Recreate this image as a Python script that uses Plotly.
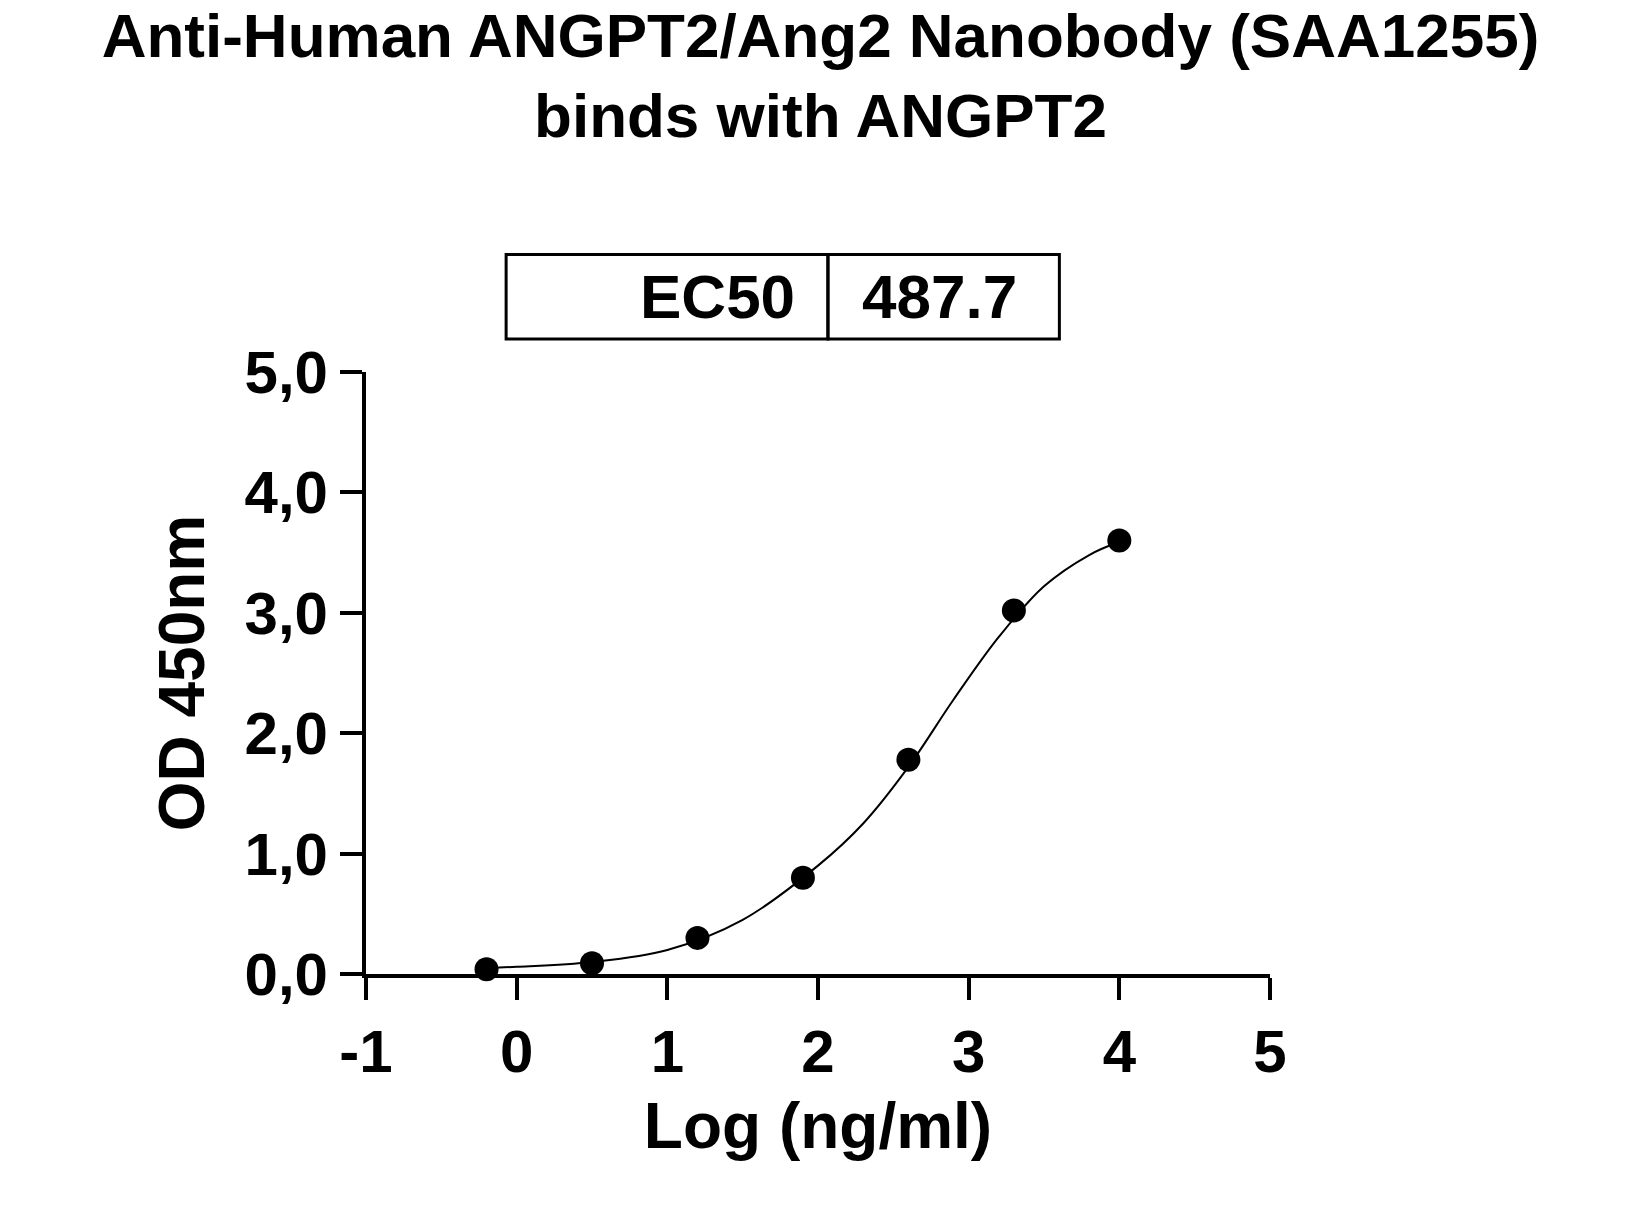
import plotly.graph_objects as go

log_conc = [-0.2, 0.5, 1.2, 1.9, 2.6, 3.3, 4.0]
od450 = [0.04, 0.09, 0.30, 0.80, 1.78, 3.02, 3.60]
fit_x = [-0.2, 0.0, 0.5, 1.0, 1.5, 2.0, 2.3, 2.6, 2.9, 3.2, 3.5, 3.8, 4.0]
fit_y = [0.05, 0.06, 0.10, 0.20, 0.45, 0.90, 1.25, 1.72, 2.28, 2.80, 3.22, 3.48, 3.59]
y_ticks = [0, 1, 2, 3, 4, 5]
y_labels = ["0,0", "1,0", "2,0", "3,0", "4,0", "5,0"]
x_ticks = [-1, 0, 1, 2, 3, 4, 5]
ec50_label, ec50_value = "EC50", "487.7"

F = "Liberation Sans"
fig = go.Figure()
fig.add_trace(go.Scatter(x=fit_x, y=fit_y, mode="lines", line=dict(color="black", width=2, shape="spline"),
                         cliponaxis=False, showlegend=False))
fig.add_trace(go.Scatter(x=log_conc, y=od450, mode="markers", marker=dict(color="black", size=24),
                         cliponaxis=False, showlegend=False))

fig.update_layout(
    width=1625, height=1220, plot_bgcolor="white", paper_bgcolor="white",
    margin=dict(l=358, r=363, t=364, b=254),
    title=dict(text="<b>Anti-Human ANGPT2/Ang2 Nanobody (SAA1255)<br>binds with ANGPT2</b>",
               x=0.5, xanchor="center", y=0.96, yanchor="top",
               font=dict(family=F, size=62, color="black")),
    xaxis=dict(range=[-1, 5], tickvals=x_ticks, ticktext=["<b>%d</b>" % v for v in x_ticks],
               showgrid=False, zeroline=False, showline=True, linecolor="black", linewidth=4,
               ticks="outside", ticklen=22, tickwidth=4, tickcolor="black",
               tickfont=dict(family=F, size=60, color="black"),
               title=dict(text="<b>Log (ng/ml)</b>", font=dict(family=F, size=64, color="black"), standoff=20)),
    yaxis=dict(range=[0, 5], tickvals=y_ticks, ticktext=["<b>%s</b>" % s for s in y_labels],
               showgrid=False, zeroline=False, showline=True, linecolor="black", linewidth=4,
               ticks="outside", ticklen=22, tickwidth=4, tickcolor="black",
               tickfont=dict(family=F, size=60, color="black"),
               title=dict(text="<b>OD 450nm</b>", font=dict(family=F, size=64, color="black"), standoff=20)),
)

for x0, x1 in [(0.155, 0.511), (0.511, 0.767)]:
    fig.add_shape(type="rect", xref="paper", yref="paper", x0=x0, x1=x1, y0=1.055, y1=1.195,
                  line=dict(color="black", width=3))
fig.add_annotation(xref="paper", yref="paper", x=0.477, y=1.125, xanchor="right", yanchor="middle",
                   showarrow=False, text="<b>%s</b>" % ec50_label, font=dict(family=F, size=62, color="black"))
fig.add_annotation(xref="paper", yref="paper", x=0.634, y=1.125, xanchor="center", yanchor="middle",
                   showarrow=False, text="<b>%s</b>" % ec50_value, font=dict(family=F, size=62, color="black"))

fig.write_html("out.html")
